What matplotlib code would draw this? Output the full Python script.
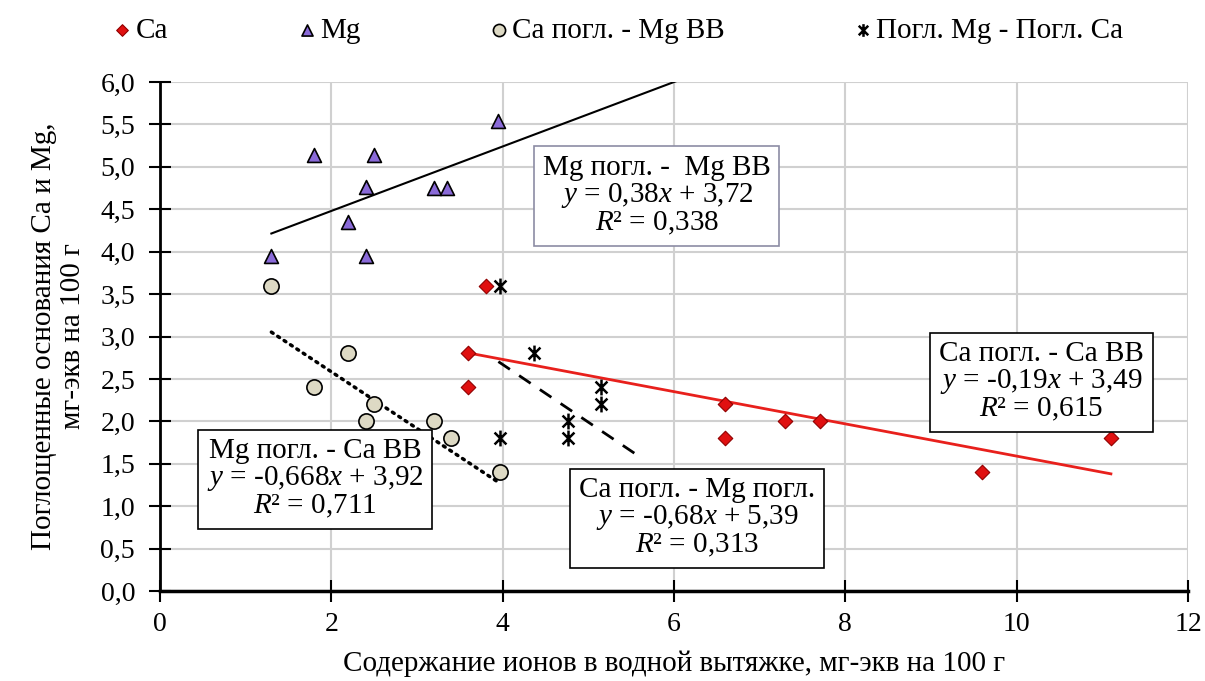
import numpy as np
import matplotlib
matplotlib.use('Agg')
import matplotlib.pyplot as plt
from matplotlib.path import Path

plt.rcParams['font.family'] = ['Liberation Serif', 'DejaVu Serif']
plt.rcParams['mathtext.fontset'] = 'custom'
plt.rcParams['mathtext.rm'] = 'Liberation Serif'
plt.rcParams['mathtext.it'] = 'Liberation Serif:italic'

# Ca
ca_x = [3.8, 3.6, 3.6, 6.6, 6.6, 7.3, 7.7, 9.6, 11.1]
ca_y = [3.6, 2.8, 2.4, 2.2, 1.8, 2.0, 2.0, 1.4, 1.8]
# Mg
mg_x = [1.3, 1.8, 2.2, 2.4, 2.4, 2.5, 3.2, 3.35, 3.95]
mg_y = [3.95, 5.14, 4.35, 4.76, 3.95, 5.14, 4.75, 4.75, 5.54]
# Ca погл. - Mg ВВ
cm_x = [1.3, 2.2, 1.8, 2.5, 2.4, 3.2, 3.4, 3.97]
cm_y = [3.6, 2.8, 2.4, 2.2, 2.0, 2.0, 1.8, 1.4]
# Погл. Mg - Погл. Ca
pp_x = [3.97, 4.36, 5.15, 5.15, 4.76, 4.76, 3.97]
pp_y = [3.6, 2.8, 2.4, 2.2, 2.0, 1.8, 1.8]

# trend lines: (slope, intercept, x range)
tr_mg = (0.38, 3.72, 1.3, 6.2)
tr_cm = (-0.668, 3.92, 1.3, 3.97)
tr_pp = (-0.68, 5.39, 3.95, 5.55)
tr_ca = (-0.19, 3.49, 3.6, 11.1)

labels = ['Ca', 'Mg', 'Ca погл. - Mg ВВ', 'Погл. Mg - Погл. Ca']

star = Path([(0, -1), (0, 1), (-0.75, -0.75), (0.75, 0.75), (-0.75, 0.75), (0.75, -0.75)],
            [Path.MOVETO, Path.LINETO] * 3)

fig = plt.figure(figsize=(12.05, 6.81), dpi=100)
ax = fig.add_axes([160/1205, 90/681, 1028/1205, 509/681])

def trend(t, **kw):
    k, b, x0, x1 = t
    xs = np.array([x0, x1])
    ax.plot(xs, k*xs + b, zorder=3, **kw)

trend(tr_mg, color='black', lw=1.5)
trend(tr_cm, color='black', lw=2.5, ls=(0, (0.6, 1.6)), dash_capstyle='round')
trend(tr_pp, color='black', lw=2, ls=(0, (5, 4)))
trend(tr_ca, color='#e8201c', lw=2)

ax.scatter(ca_x, ca_y, marker='D', s=55, c='#e01010', edgecolors='#900000', linewidths=0.8, zorder=4, label=labels[0])
ax.scatter(mg_x, mg_y, marker='^', s=100, c='#8a6ad8', edgecolors='black', linewidths=1.2, zorder=4, label=labels[1])
ax.scatter(cm_x, cm_y, marker='o', s=120, c='#ddd9c4', edgecolors='black', linewidths=1.2, zorder=4, label=labels[2])
ax.scatter(pp_x, pp_y, marker=star, s=130, c='black', linewidths=1.8, zorder=4, label=labels[3])

ax.set_xlim(0, 12)
ax.set_ylim(0, 6)
ax.set_xticks(range(0, 13, 2))
ax.set_yticks(np.arange(0, 6.01, 0.5))
ax.set_yticklabels([f'{v:.1f}'.replace('.', ',') for v in np.arange(0, 6.01, 0.5)])
ax.grid(True, color='#d0d0d0', lw=1.5)
ax.set_axisbelow(True)
for s in ['top', 'right']:
    ax.spines[s].set_visible(False)
ax.spines['left'].set_linewidth(2)
ax.spines['bottom'].set_linewidth(2.5)
ax.tick_params(direction='inout', length=16, width=1.5, labelsize=20, pad=10)
ax.tick_params(axis='x', pad=7)

ax.set_xlabel('Содержание ионов в водной вытяжке, мг-экв на 100 г', fontsize=21, labelpad=10)
ax.set_ylabel('Поглощенные основания Ca и Mg,\nмг-экв на 100 г', fontsize=21, labelpad=10, linespacing=1.15)

def box(x, y, t, ec='black'):
    ax.text(x, y, t, fontsize=21, ha='center', va='center', linespacing=1.0, zorder=6,
            bbox=dict(boxstyle='square,pad=0.3', fc='white', ec=ec, lw=1.2))

box(5.80, 4.66, 'Mg погл. -  Mg ВВ\n$y$ = 0,38$x$ + 3,72\n$R$² = 0,338', ec='#8c8ca4')
box(1.81, 1.32, 'Mg погл. - Ca ВВ\n$y$ = -0,668$x$ + 3,92\n$R$² = 0,711')
box(10.29, 2.46, 'Ca погл. - Ca ВВ\n$y$ = -0,19$x$ + 3,49\n$R$² = 0,615')
box(6.27, 0.86, 'Ca погл. - Mg погл.\n$y$ = -0,68$x$ + 5,39\n$R$² = 0,313')

leg = fig.legend(loc='center', bbox_to_anchor=(0.512, 0.955), ncol=4, frameon=False, fontsize=21,
                 markerscale=0.8, handletextpad=0.05, columnspacing=4.35, handlelength=0.8)

fig.savefig('out.png', dpi=100)
